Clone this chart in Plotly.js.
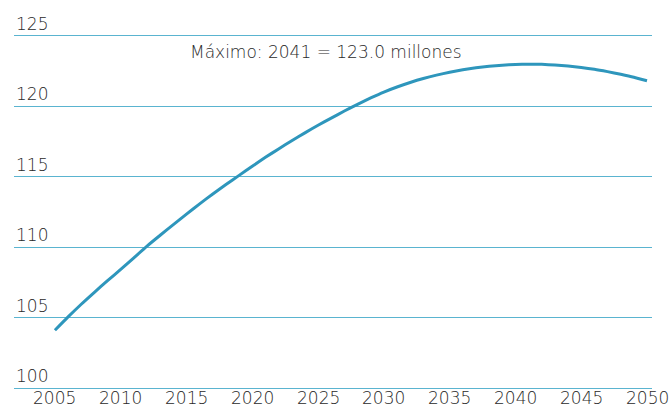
<!DOCTYPE html>
<html>
<head>
<meta charset="utf-8">
<script src="https://cdn.plot.ly/plotly-3.0.1.min.js"></script>
<style>html,body{margin:0;padding:0;background:#fff;}#chart{width:671px;height:411px;}</style>
</head>
<body>
<div id="chart"></div>
<script>
const years = [2005,2006,2007,2008,2009,2010,2011,2012,2013,2014,2015,2016,2017,2018,2019,2020,2021,2022,2023,2024,2025,2026,2027,2028,2029,2030,2031,2032,2033,2034,2035,2036,2037,2038,2039,2040,2041,2042,2043,2044,2045,2046,2047,2048,2049,2050];
const population = [104.1,105.05,105.95,106.8,107.62,108.42,109.25,110.08,110.85,111.6,112.35,113.08,113.78,114.45,115.1,115.75,116.38,116.98,117.56,118.12,118.66,119.17,119.67,120.15,120.6,121.02,121.38,121.7,121.98,122.22,122.43,122.6,122.74,122.85,122.93,122.98,123.0,122.985,122.94,122.87,122.77,122.64,122.47,122.28,122.07,121.82];
const xTicks = [2005,2010,2015,2020,2025,2030,2035,2040,2045,2050];
const yTicks = [100,105,110,115,120,125];
const peakLabel = "Máximo: 2041 = 123.0 millones";

const font = {family: "'DejaVu Sans', sans-serif", size: 17, color: "#2a2a2a", weight: 300};
const gridColor = "#5ab4d0";

const annotations = yTicks.map(v => ({
  xref: "paper", yref: "y", x: 0, y: v,
  xanchor: "left", yanchor: "bottom", yshift: 0,
  text: String(v), showarrow: false, font: font
}));
xTicks.forEach(t => annotations.push({
  xref: "x", yref: "paper", x: t, y: 0,
  xanchor: "center", yanchor: "top", yshift: 1,
  text: String(t), showarrow: false, font: font, borderpad: 0
}));
annotations.push({
  xref: "x", yref: "y", x: 2025.6, y: 123.84,
  xanchor: "center", yanchor: "middle",
  text: peakLabel, showarrow: false, font: font
});

Plotly.newPlot("chart", [{
  x: years, y: population, type: "scatter", mode: "lines",
  line: {color: "#2e96bc", width: 3, shape: "spline", smoothing: 0.5},
  hoverinfo: "skip"
}], {
  width: 671, height: 411,
  margin: {l: 14, r: 19, t: 36, b: 23, pad: 0},
  paper_bgcolor: "#ffffff", plot_bgcolor: "#ffffff",
  showlegend: false,
  font: font,
  xaxis: {
    range: [2001.89, 2050.38], tickvals: xTicks, showticklabels: false,
    showgrid: false, zeroline: false, showline: true, mirror: true,
    linecolor: gridColor, linewidth: 1, ticks: ""
  },
  yaxis: {
    range: [100, 125], tickvals: yTicks, showticklabels: false,
    showgrid: true, gridcolor: gridColor, gridwidth: 1, zeroline: false, showline: false, ticks: ""
  },
  annotations: annotations
}, {staticPlot: true, displayModeBar: false});
</script>
</body>
</html>
